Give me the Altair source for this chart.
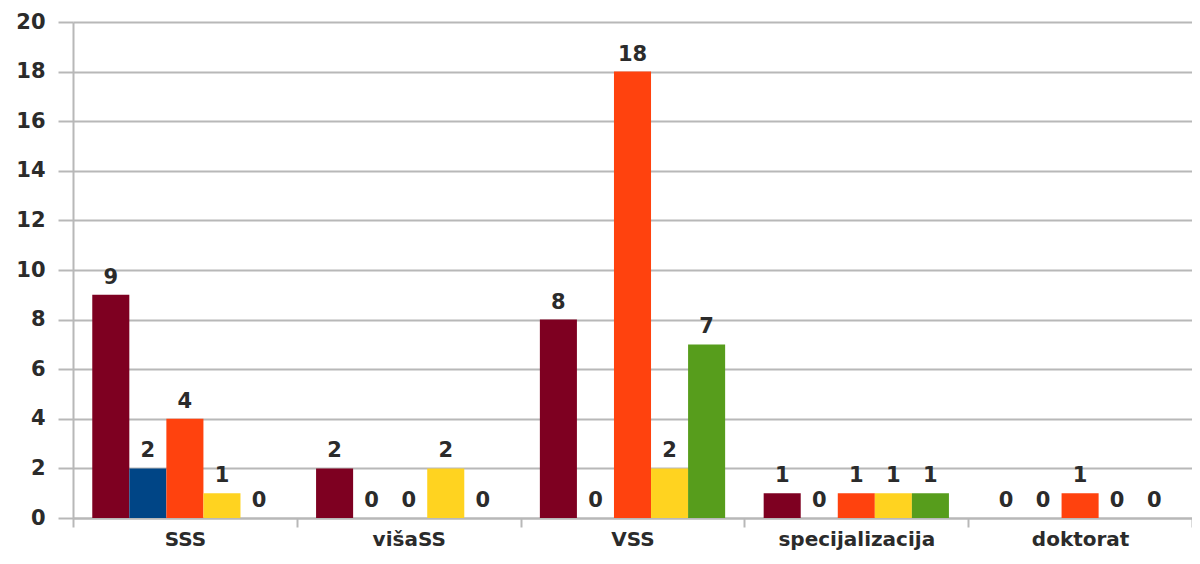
import altair as alt
import pandas as pd

categories = ["SSS", "višaSS", "VSS", "specijalizacija", "doktorat"]
series = ["Serija 1", "Serija 2", "Serija 3", "Serija 4", "Serija 5"]
serija_1 = [9, 2, 8, 1, 0]
serija_2 = [2, 0, 0, 0, 0]
serija_3 = [4, 0, 18, 1, 1]
serija_4 = [1, 2, 2, 1, 0]
serija_5 = [0, 0, 7, 1, 0]
colors = ["#7E0021", "#004586", "#FF420E", "#FFD320", "#579D1C"]

rows = []
for s, vals in zip(series, [serija_1, serija_2, serija_3, serija_4, serija_5]):
    for c, v in zip(categories, vals):
        rows.append({"cat": c, "series": s, "value": v})
df = pd.DataFrame(rows)

GRID = "#b8b8b8"
TXT = "#2b2b2b"
FONT = "DejaVu Sans"

base = alt.Chart(df).encode(
    x=alt.X(
        "cat:N",
        sort=categories,
        scale=alt.Scale(paddingInner=0, paddingOuter=0),
        axis=alt.Axis(
            title=None, labelAngle=0, tickBand="extent", tickSize=9,
            tickColor=GRID, tickWidth=2, domainColor=GRID, domainWidth=2,
            labelFont=FONT, labelFontSize=20, labelFontWeight="bold",
            labelColor=TXT, labelPadding=2,
        ),
    ),
    xOffset=alt.XOffset(
        "series:N", sort=series,
        scale=alt.Scale(paddingInner=0, paddingOuter=0.52),
    ),
    y=alt.Y(
        "value:Q",
        scale=alt.Scale(domain=[0, 20], nice=False),
        axis=alt.Axis(
            title=None, values=list(range(0, 21, 2)), tickSize=15,
            tickColor=GRID, tickWidth=2, domainColor=GRID, domainWidth=2,
            gridColor=GRID, gridWidth=2, labelFont=FONT, labelFontSize=21,
            labelFontWeight="bold", labelColor=TXT, labelPadding=13,
        ),
    ),
)

bars = base.mark_bar().encode(
    color=alt.Color("series:N", scale=alt.Scale(domain=series, range=colors), legend=None)
)
labels = base.mark_text(
    baseline="alphabetic", dy=-11, fontSize=21, font=FONT, fontWeight="bold", color=TXT
).encode(text="value:Q")

chart = (
    alt.layer(bars, labels)
    .properties(
        width=1119,
        height=496,
        autosize=alt.AutoSizeParams(type="none"),
        padding={"left": 65, "top": 14, "right": 0, "bottom": 38},
    )
    .configure_view(stroke=None)
)

chart.save("out.html", embed_options={"renderer": "svg", "actions": False})
